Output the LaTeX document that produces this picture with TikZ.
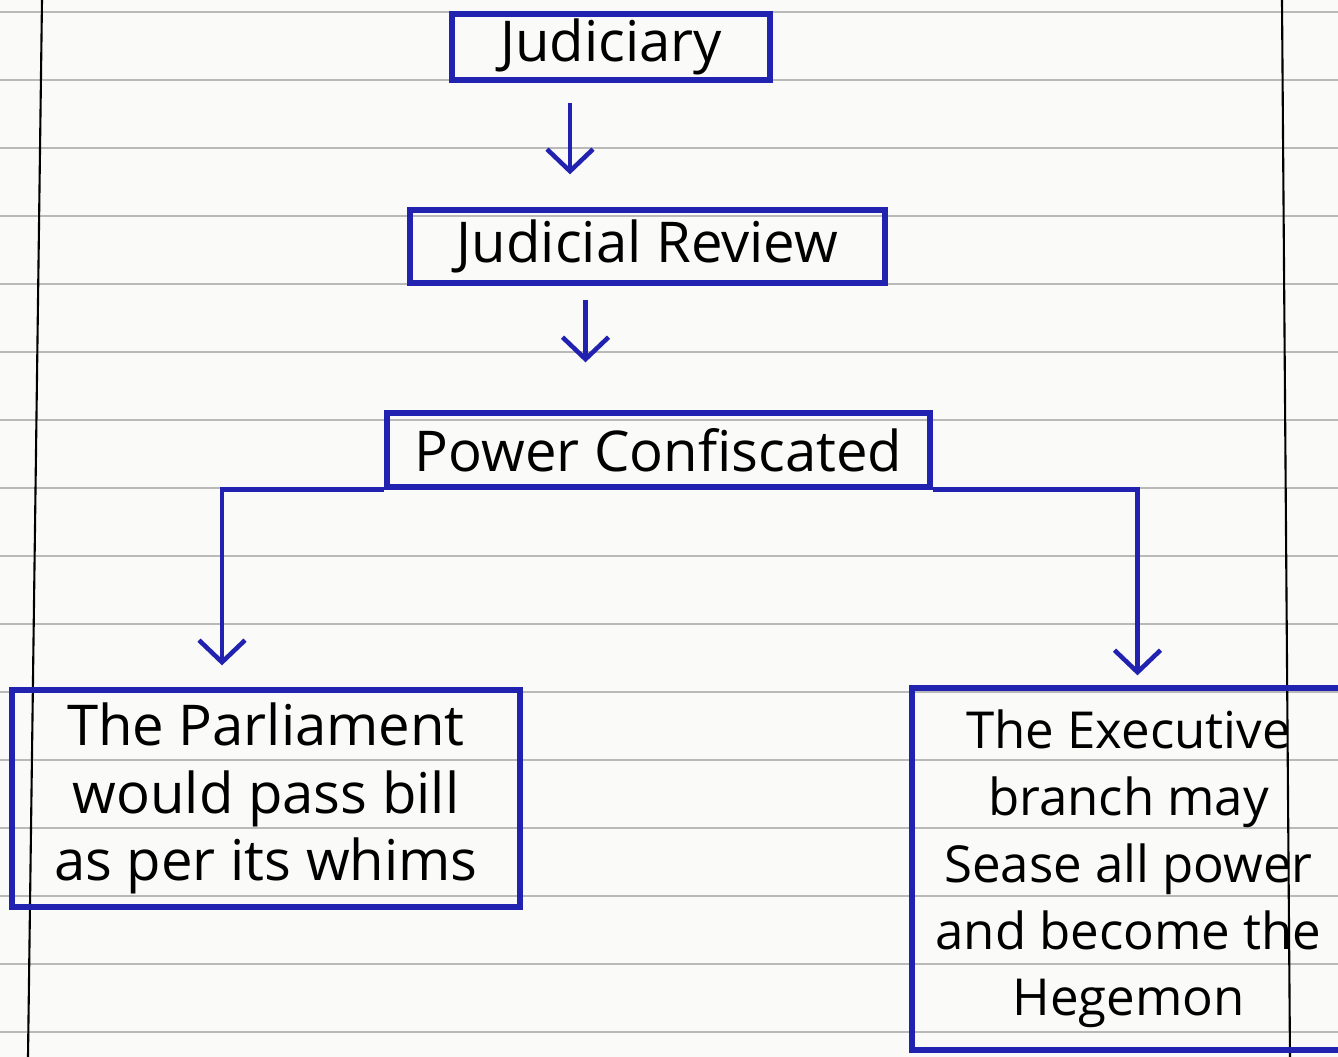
\documentclass[tikz,border=0pt]{standalone}
\usepackage{fontspec}
\setmainfont{Open Sans}
\usepackage{xcolor}
\definecolor{pen}{HTML}{2222B0}
\definecolor{rule}{HTML}{B9B9B9}
\definecolor{paper}{HTML}{FAFAF8}
\usetikzlibrary{arrows.meta,positioning,calc}
\tikzset{
  every picture/.style={line width=0.6pt},
  box/.style={draw=pen, line width=1.5pt, align=center, inner xsep=3pt, inner ysep=1pt,
    font=\fontsize{16}{19.3}\selectfont, minimum width=#1},
  box/.default=3cm,
  arrow/.style={-{Straight Barb[length=2.2mm, width=4.6mm, line width=1.3pt]}, draw=pen, line width=1.3pt},
}

\begin{document}
\begin{tikzpicture}
  % the sheet
  \fill[paper] (0,0) rectangle (13.38,-10.57);
  \useasboundingbox (0,0) rectangle (13.38,-10.57);
  \foreach \k in {0,...,15}
    \draw[rule] (0,-0.12-0.68*\k) -- (13.38,-0.12-0.68*\k);
  \draw[black] (0.42,0) -- (0.28,-10.57);
  \draw[black] (12.82,0) -- (12.90,-10.57);

  % boxes
  \node[box=3.18cm, minimum height=0.66cm] (jud) at (6.11,-0.47) {Judiciary};
  \node[box=4.75cm, minimum height=0.73cm] (jr) at (6.475,-2.465) {Judicial Review};
  \node[box=5.43cm, minimum height=0.74cm] (pc) at (6.585,-4.50) {Power Confiscated};
  \node[box=5.08cm, minimum height=2.17cm] (parl) at (2.66,-7.985)
    {The Parliament\\would pass bill\\as per its whims};
  \node[box=4.33cm, minimum height=3.62cm, font=\fontsize{14.5}{19}\selectfont] (exec) at (11.285,-8.69)
    {The Executive\\branch may\\Sease all power\\and become the\\Hegemon};

  % connectors
  \coordinate (a1) at ([xshift=-4.1mm]jud.south);
  \coordinate (a2) at ([xshift=-6.2mm]jr.south);
  \draw[arrow, shorten <=2mm, shorten >=3.3mm] (a1) -- (a1 |- jr.north);
  \draw[arrow, shorten <=1.4mm, shorten >=4.8mm] (a2) -- (a2 |- pc.north);
  \coordinate (b1) at ([xshift=-4.4mm]parl.north);
  \coordinate (b2) at ([xshift=0.9mm]exec.north);
  \draw[arrow, shorten >=2.2mm] (pc.south west) -| (b1);
  \draw[arrow, shorten >=1mm] (pc.south east) -| (b2);
\end{tikzpicture}
\end{document}
